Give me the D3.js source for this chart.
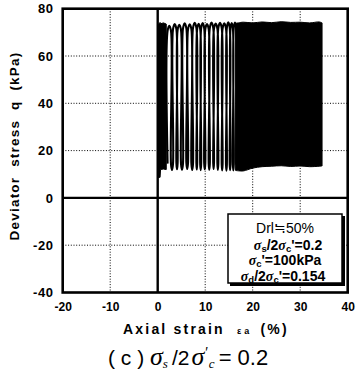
<!DOCTYPE html>
<html>
<head>
<meta charset="utf-8">
<script src="https://cdn.jsdelivr.net/npm/d3@7"></script>
<style>
  body { margin: 0; background: #fff; }
  svg text { font-family: "Liberation Sans", Arial, sans-serif; fill: #000; }
  .sig { font-family: "Liberation Serif", "DejaVu Serif", serif; font-style: italic; }
</style>
</head>
<body>
<svg id="chart" width="356" height="373"></svg>
<script>
// axis ticks
const xTicks = [-20, -10, 0, 10, 20, 30, 40];
const yTicks = [-40, -20, 0, 20, 40, 60, 80];

// individually visible cycles: strain at start of loading / start of unloading (%)
const loadStrain   = [2.08, 3.22, 4.19, 5.32, 6.38, 7.43, 8.31, 9.15, 10.02, 10.97, 11.85, 12.76, 13.66, 14.56, 15.33, 16.02];
const unloadStrain = [2.80, 3.94, 4.91, 6.04, 7.10, 8.15, 8.95, 9.79, 10.74, 11.69, 12.57, 13.48, 14.38, 15.16, 15.83, 16.52];
const peakQ   = [72.8, 73.5, 73.2, 73.8, 73.4, 74.0, 73.6, 73.9, 73.5, 74.1, 73.7, 74.0, 73.8, 74.2, 73.9, 74.1];
const troughQ = [12.0, 11.8, 12.1, 11.9, 12.2, 11.8, 12.0, 11.7, 12.1, 11.9, 12.2, 11.8, 11.6, 11.5, 11.7, 11.6];

// first cycles, too dense to separate: envelope (strain %, q kPa)
const earlyStrain = [0, 0.5, 0.6, 1.2, 1.8];
const earlyTop    = [73.0, 74.2, 73.6, 74.0, 73.5];
const earlyBottom = [8.7, 8.7, 12.0, 12.2, 12.0];

// later cycles, too dense to separate: envelope
const lateStrain = [16.4, 18, 20, 22, 24, 26, 28, 30, 32, 34.0, 34.6];
const lateTop    = [73.8, 74.3, 74.0, 74.4, 74.1, 74.5, 74.2, 74.3, 74.0, 74.4, 74.0];
const lateBottom = [11.6, 11.4, 12.6, 13.2, 13.4, 13.6, 13.3, 13.5, 13.2, 13.4, 13.5];

const svg = d3.select('#chart');
const x = d3.scaleLinear().domain([-20, 40]).range([62.7, 347.7]);
const y = d3.scaleLinear().domain([-40, 80]).range([292.5, 8.7]);

// grid
const grid = svg.append('g');
grid.selectAll('line.gx')
  .data(xTicks.filter(d => d !== -20 && d !== 40))
  .enter().append('line')
  .attr('x1', d => x(d)).attr('x2', d => x(d))
  .attr('y1', y(80)).attr('y2', y(-40))
  .attr('stroke', '#000')
  .attr('stroke-width', d => d === 0 ? 2.4 : 1)
  .attr('stroke-dasharray', d => d === 0 ? null : '1,1.7');
grid.selectAll('line.gy')
  .data(yTicks.filter(d => d !== -40 && d !== 80))
  .enter().append('line')
  .attr('y1', d => y(d)).attr('y2', d => y(d))
  .attr('x1', x(-20)).attr('x2', x(40))
  .attr('stroke', '#000')
  .attr('stroke-width', d => d === 0 ? 2.4 : 1)
  .attr('stroke-dasharray', d => d === 0 ? null : '1,1.7');

// dense bands
const band = d3.area()
  .x(d => x(d[0]))
  .y0(d => y(d[2]))
  .y1(d => y(d[1]));
svg.append('path')
  .datum(earlyStrain.map((s, i) => [s, earlyTop[i], earlyBottom[i]]))
  .attr('d', band)
  .attr('fill', '#000').attr('stroke', '#000').attr('stroke-width', 1);
svg.append('path')
  .datum(lateStrain.map((s, i) => [s, lateTop[i], lateBottom[i]]))
  .attr('d', band.curve(d3.curveCatmullRom))
  .attr('fill', '#000').attr('stroke', '#000').attr('stroke-width', 1);

// separate loops as one continuous trace
const pts = [];
loadStrain.forEach((s, i) => {
  const p = unloadStrain[i];
  const qlo = troughQ[i], qhi = peakQ[i];
  pts.push([s, qlo + 2.5], [s, qhi - 2.2], [(s + p) / 2, qhi], [p, qhi - 2.2]);
  if (i < loadStrain.length - 1) {
    const next = loadStrain[i + 1];
    const qn = troughQ[i + 1];
    pts.push([p, qn + 2.5], [(p + next) / 2, qn]);
  } else {
    pts.push([p, qlo + 2.5]);
  }
});
svg.append('path')
  .datum(pts)
  .attr('d', d3.line().x(d => x(d[0])).y(d => y(d[1])).curve(d3.curveCatmullRom.alpha(0.5)))
  .attr('fill', 'none')
  .attr('stroke', '#000')
  .attr('stroke-width', 2.1);

// frame
svg.append('rect')
  .attr('x', x(-20)).attr('y', y(80))
  .attr('width', x(40) - x(-20)).attr('height', y(-40) - y(80))
  .attr('fill', 'none').attr('stroke', '#000').attr('stroke-width', 2.6);

// tick labels
const yAxis = svg.append('g')
  .attr('transform', `translate(${x(-20)},0)`)
  .call(d3.axisLeft(y).tickValues(yTicks).tickSize(0).tickPadding(9).tickFormat(d => String(d)));
yAxis.select('.domain').remove();
yAxis.selectAll('text')
  .style('font-family', '"Liberation Sans", Arial, sans-serif')
  .style('font-size', '13px').style('font-weight', 'bold').style('letter-spacing', '0.6px');

const xAxis = svg.append('g')
  .attr('transform', `translate(0,${y(-40)})`)
  .call(d3.axisBottom(x).tickValues(xTicks).tickSize(0).tickPadding(10).tickFormat(d => String(d)));
xAxis.select('.domain').remove();
xAxis.selectAll('text')
  .style('font-family', '"Liberation Sans", Arial, sans-serif')
  .style('font-size', '12px').style('font-weight', 'bold');

// axis titles
svg.append('text')
  .attr('transform', 'translate(19,146) rotate(-90)')
  .attr('text-anchor', 'middle')
  .style('font-size', '13.5px').style('font-weight', 'bold').style('letter-spacing', '1.2px')
  .style('white-space', 'pre')
  .text('Deviator  stress  q  (kPa)');

const xt = svg.append('text')
  .attr('x', 123).attr('y', 334)
  .style('font-size', '14px').style('font-weight', 'bold').style('letter-spacing', '2.2px')
  .style('white-space', 'pre');
xt.append('tspan').text('Axial strain  ');
xt.append('tspan').style('font-size', '9px').style('letter-spacing', '0px').text('ε');
xt.append('tspan').style('font-size', '9px').style('letter-spacing', '0px').attr('dx', 3).text('a');
xt.append('tspan').attr('dx', 5).text(' (%)');

// legend box
const lg = svg.append('g');
lg.append('rect')
  .attr('x', 230).attr('y', 216).attr('width', 115).attr('height', 70)
  .attr('fill', '#000');
lg.append('rect')
  .attr('x', 228).attr('y', 214).attr('width', 114).attr('height', 69)
  .attr('fill', '#fff').attr('stroke', '#000').attr('stroke-width', 1.5);

function sigmaLine(yy, sub1, rest, cx) {
  const t = lg.append('text').attr('x', cx).attr('y', yy).attr('text-anchor', 'middle')
    .style('font-size', '14px').style('font-weight', 'bold');
  t.append('tspan').attr('class', 'sig').text('σ');
  t.append('tspan').style('font-size', '9.5px').attr('dy', 2).text(sub1);
  rest.forEach(r => {
    if (r.sig) {
      t.append('tspan').attr('class', 'sig').attr('dy', r.dy || 0).text('σ');
    } else if (r.sub) {
      t.append('tspan').style('font-size', '9.5px').attr('dy', r.dy || 0).text(r.sub);
    } else {
      t.append('tspan').attr('dy', r.dy || 0).text(r.t);
    }
  });
}
lg.append('text').attr('x', 285).attr('y', 233).attr('text-anchor', 'middle')
  .style('font-size', '14px').text('Drl≒50%');
sigmaLine(249.5, 's', [{t: '/2', dy: -2}, {sig: true}, {sub: 'c', dy: 2}, {t: "'=0.2", dy: -2}], 288);
sigmaLine(265, 'c', [{t: "'=100kPa", dy: -2}], 285);
sigmaLine(281, 'd', [{t: '/2', dy: -2}, {sig: true}, {sub: 'c', dy: 2}, {t: "'=0.154", dy: -2}], 283);

// caption
const cap = svg.append('text').attr('x', 108).attr('y', 365)
  .style('font-size', '21px').style('white-space', 'pre');
cap.append('tspan').text('( c ) ');
cap.append('tspan').attr('class', 'sig').style('font-size', '26px').text('σ');
cap.append('tspan').attr('class', 'sig').style('font-size', '13px').attr('dy', 3).text('s');
cap.append('tspan').attr('dx', 4).attr('dy', -3).text('/2');
cap.append('tspan').attr('class', 'sig').attr('dx', 2).style('font-size', '26px').text('σ');
cap.append('tspan').style('font-size', '14px').attr('dx', 1).attr('dy', -8).text('′');
cap.append('tspan').attr('class', 'sig').style('font-size', '13px').attr('dx', 1).attr('dy', 11).text('c');
cap.append('tspan').attr('dx', 4).attr('dy', -3).style('font-size', '22px').text('= 0.2');
</script>
</body>
</html>
